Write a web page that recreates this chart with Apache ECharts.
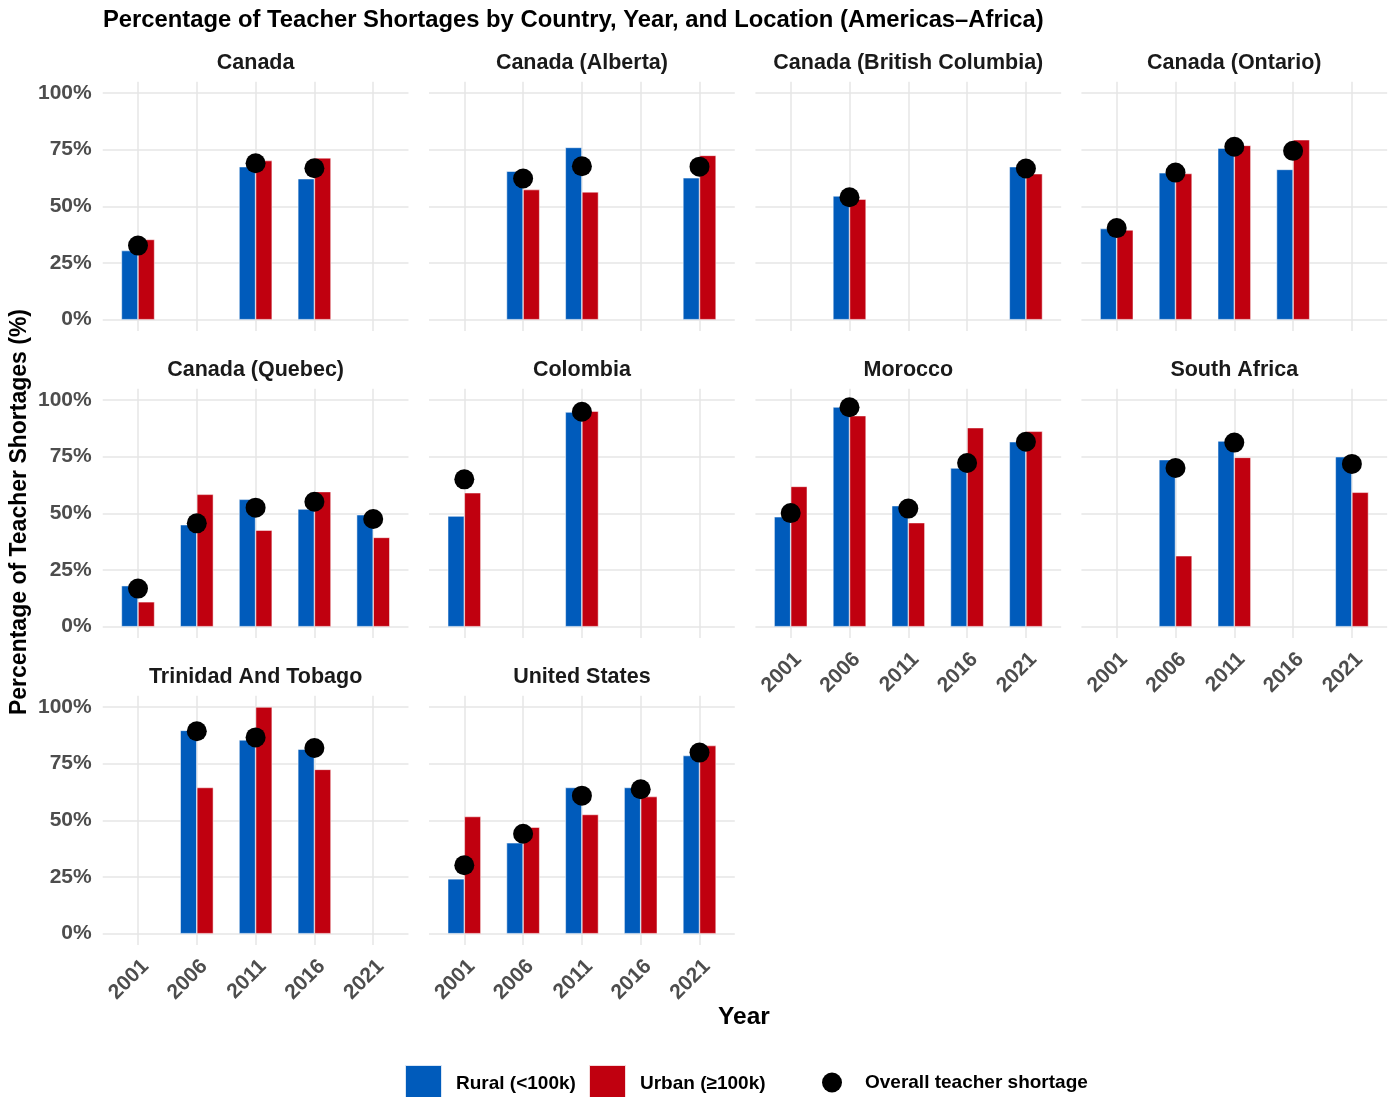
<!DOCTYPE html>
<html>
<head>
<meta charset="utf-8">
<script src="https://cdn.jsdelivr.net/npm/echarts@6/dist/echarts.min.js"></script>
<style>
  html, body { margin: 0; padding: 0; background: #fff; }
  #chart { width: 1392px; height: 1097px; }
</style>
</head>
<body>
<div id="chart"></div>
<script>
// data (percent)
const years = ['2001', '2006', '2011', '2016', '2021'];
const panels = [
  'Canada', 'Canada (Alberta)', 'Canada (British Columbia)', 'Canada (Ontario)',
  'Canada (Quebec)', 'Colombia', 'Morocco', 'South Africa',
  'Trinidad And Tobago', 'United States'
];
const rural = [
  [30.5, null, 67.5, 62.2, null],
  [null, 65.5, 76.0, null, 62.6],
  [null, 54.6, null, null, 67.5],
  [40.2, 64.8, 75.7, 66.3, null],
  [18.1, 45.0, 56.2, 51.9, 49.4],
  [48.8, null, 94.7, null, null],
  [48.5, 96.9, 53.4, 70.0, 81.6],
  [null, 73.7, 81.9, null, 75.0],
  [null, 89.7, 85.5, 81.4, null],
  [24.2, 40.1, 64.5, 64.5, 78.6]
];
const urban = [
  [35.4, null, 70.2, 71.4, null],
  [null, 57.4, 56.4, null, 72.5],
  [null, 53.2, null, null, 64.4],
  [39.6, 64.5, 76.9, 79.4, null],
  [11.0, 58.4, 42.6, 59.6, 39.4],
  [59.1, null, 95.1, null, null],
  [61.9, 93.1, 45.9, 87.8, 86.2],
  [null, 31.3, 74.7, null, 59.3],
  [null, 64.5, 100, 72.5, null],
  [51.7, 47.0, 52.6, 60.5, 83.0]
];
const overall = [
  [32.7, null, 69.0, 66.8, null],
  [null, 62.3, 67.7, null, 67.5],
  [null, 54.0, null, null, 66.7],
  [40.4, 64.9, 76.3, 74.5, null],
  [16.8, 45.6, 52.5, 55.1, 47.5],
  [65.0, null, 94.8, null, null],
  [50.1, 96.8, 52.1, 72.2, 81.6],
  [null, 70.0, 81.2, null, 71.8],
  [null, 89.3, 86.6, 81.9, null],
  [30.2, 44.1, 60.9, 63.7, 79.9]
];

const RURAL = 'Rural (<100k)';
const URBAN = 'Urban (\u2265100k)';
const OVERALL = 'Overall teacher shortage';
const blue = '#005BBB';
const red = '#C0000F';
const gridColor = '#E6E6E6';
const FONT = '"Liberation Sans", Arial, sans-serif';

// layout (px)
const colFirstTick = [138, 464.3, 790.7, 1116.7];
const rowTop = [93, 400, 707];
const band = 58.8;
const panelH = 226.7;
const expandY = 11.3;
const bottomPanels = [6, 7, 8, 9];

const grid = [], xAxis = [], yAxis = [], series = [], graphic = [];

panels.forEach((name, i) => {
  const row = Math.floor(i / 4), col = i % 4;
  const t1 = colFirstTick[col];
  const top = rowTop[row];
  const g = i * 3;

  // horizontal gridlines + y labels
  grid.push({ left: t1 - band * 0.6, top: top, width: band * 5.2, height: panelH });
  xAxis.push({ gridIndex: g, type: 'value', show: false });
  yAxis.push({
    gridIndex: g, type: 'value', min: 0, max: 100, interval: 25,
    axisLine: { show: false }, axisTick: { show: false },
    splitLine: { show: true, lineStyle: { color: gridColor, width: 1.5 } },
    axisLabel: {
      show: col === 0, formatter: '{value}%', margin: 11,
      color: '#4D4D4D', fontWeight: 'bold', fontSize: 21, fontFamily: FONT
    }
  });

  // vertical gridlines
  grid.push({ left: t1, top: top - expandY, width: band * 4, height: panelH + expandY * 2 });
  xAxis.push({
    gridIndex: g + 1, type: 'category', data: years, boundaryGap: false,
    axisLine: { show: false }, axisTick: { show: false }, axisLabel: { show: false },
    splitLine: { show: true, interval: 0, lineStyle: { color: gridColor, width: 1.5 } }
  });
  yAxis.push({ gridIndex: g + 1, type: 'value', show: false });

  // data
  grid.push({ left: t1 - band * 0.5, top: top, width: band * 5, height: panelH });
  xAxis.push({
    gridIndex: g + 2, type: 'category', data: years, boundaryGap: true,
    axisLine: { show: false }, axisTick: { show: false }, splitLine: { show: false },
    axisLabel: {
      show: bottomPanels.includes(i), interval: 0, rotate: 45, margin: 22,
      align: 'right', verticalAlign: 'top',
      color: '#4D4D4D', fontWeight: 'bold', fontSize: 21, fontFamily: FONT
    }
  });
  yAxis.push({ gridIndex: g + 2, type: 'value', min: 0, max: 100, show: false });

  const bar = (nm, vals, color) => ({
    name: nm, type: 'bar', xAxisIndex: g + 2, yAxisIndex: g + 2,
    barWidth: 16.6, barGap: '0%',
    itemStyle: { color: color, borderColor: 'rgba(255,255,255,0.85)', borderWidth: 0.6 },
    data: vals.map(v => v === null ? '-' : v),
    z: 2
  });
  series.push(bar(RURAL, rural[i], blue));
  series.push(bar(URBAN, urban[i], red));
  series.push({
    name: OVERALL, type: 'scatter', xAxisIndex: g + 2, yAxisIndex: g + 2,
    symbol: 'circle', symbolSize: 20, itemStyle: { color: '#000', opacity: 1 },
    data: overall[i].map(v => v === null ? '-' : v),
    z: 4
  });

  graphic.push({
    type: 'text', x: t1 + band * 2, y: top - 30,
    style: {
      text: name, font: 'bold 21.5px ' + FONT, fill: '#1A1A1A',
      align: 'center', verticalAlign: 'middle', textAlign: 'center', textVerticalAlign: 'middle'
    }
  });
});

graphic.push({
  type: 'text', x: 103, y: 20,
  style: {
    text: 'Percentage of Teacher Shortages by Country, Year, and Location (Americas\u2013Africa)',
    font: 'bold 23.8px ' + FONT, fill: '#000',
    align: 'left', verticalAlign: 'middle', textAlign: 'left', textVerticalAlign: 'middle'
  }
});
graphic.push({
  type: 'text', x: 744, y: 1017,
  style: {
    text: 'Year', font: 'bold 24.5px ' + FONT, fill: '#000',
    align: 'center', verticalAlign: 'middle', textAlign: 'center', textVerticalAlign: 'middle'
  }
});
graphic.push({
  type: 'text', x: 20, y: 512, rotation: Math.PI / 2,
  style: {
    text: 'Percentage of Teacher Shortages (%)', font: 'bold 23px ' + FONT, fill: '#000',
    align: 'center', verticalAlign: 'middle', textAlign: 'center', textVerticalAlign: 'middle'
  }
});

const legendText = (pad) => ({
  color: '#000', fontWeight: 'bold', fontSize: 19, fontFamily: FONT, padding: [0, 0, 0, pad]
});
const legend = [
  { data: [{ name: RURAL, icon: 'rect' }], left: 404, top: 1064, padding: 0,
    itemWidth: 37, itemHeight: 37, textStyle: legendText(9) },
  { data: [{ name: URBAN, icon: 'rect' }], left: 588, top: 1064, padding: 0,
    itemWidth: 37, itemHeight: 37, textStyle: legendText(9) },
  { data: [{ name: OVERALL, icon: 'circle' }], left: 822, top: 1072.5, padding: 0,
    itemWidth: 20, itemHeight: 20, textStyle: legendText(18) }
];

const chart = echarts.init(document.getElementById('chart'), null, { renderer: 'canvas' });
chart.setOption({
  backgroundColor: '#fff',
  animation: false,
  grid: grid,
  xAxis: xAxis,
  yAxis: yAxis,
  series: series,
  legend: legend,
  graphic: graphic
});
</script>
</body>
</html>
